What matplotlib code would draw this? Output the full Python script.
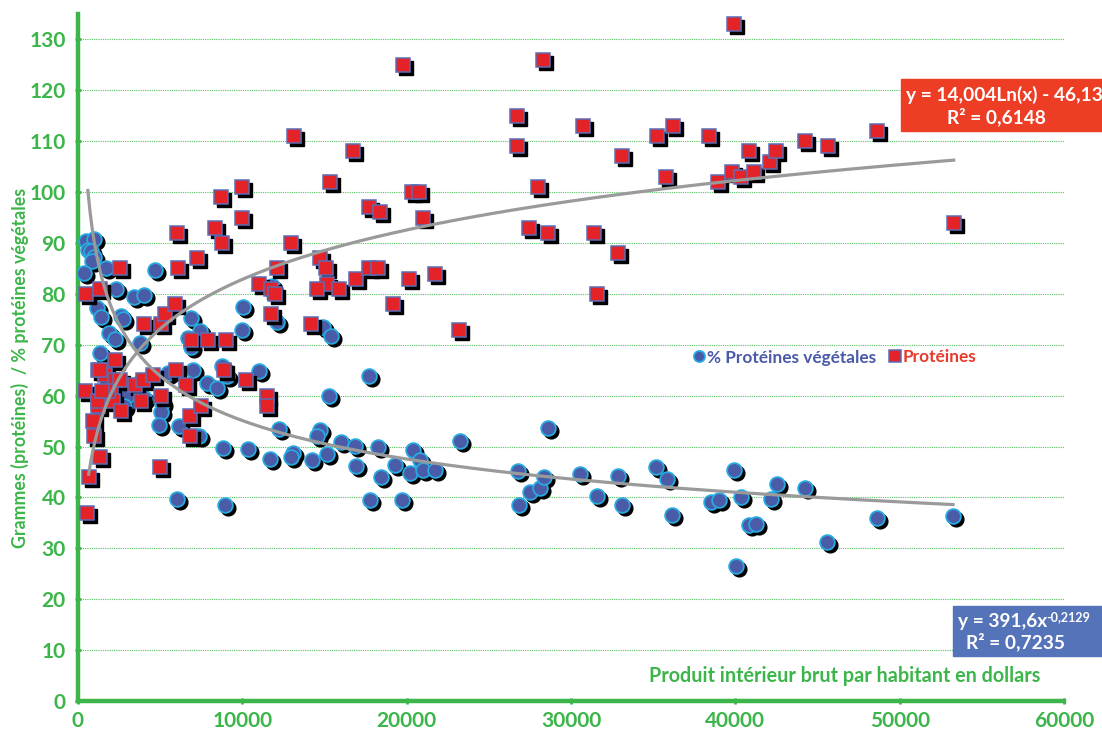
# PIB par habitant vs protéines : nuage de points avec courbes de tendance
from matplotlib import pyplot as plt
from matplotlib import transforms
from matplotlib.patches import Rectangle
import numpy as np

plt.rcParams['font.family'] = ['Lato', 'DejaVu Sans']
plt.rcParams['font.weight'] = 'bold'

# % protéines végétales (x = PIB/hab en dollars, y = %)
veg_x = [470, 976, 630, 770, 976, 830, 366, 1690, 4700, 2300, 3420, 4030, 1180, 1420,
         2600, 2750, 1890, 2250, 3800, 1330, 10050, 6870, 7400, 9990, 6670, 6900, 12110,
         14880, 15410, 11810, 5450, 6970, 7880, 8440, 9050, 8750, 11040, 5100, 5040, 4940,
         6140, 7380, 8800, 10330, 11700, 13070, 12970, 14230, 14700, 14520, 12260, 15150,
         16000, 16840, 16920, 6000, 8970, 15270, 17710, 18250, 18460, 19280, 20190, 20390,
         20800, 21000, 21720, 23240, 17750, 19740, 26800, 26860, 27510, 28120, 28380, 28630,
         30520, 31600, 32880, 33120, 35200, 35870, 36170, 38490, 38980, 39890, 40020, 40320,
         40810, 41240, 42150, 42520, 44230, 45570, 48620, 53250, 4030, 3820, 1500, 2200,
         3000, 2800, 1800]
veg_y = [90.4, 90.7, 88.7, 88.4, 87.3, 86.5, 84.2, 85, 84.6, 80.9, 79.4, 79.8, 77.3, 75.4,
         75.6, 75, 72.4, 71.2, 70.4, 68.3, 77.4, 75.3, 72.8, 73, 71.4, 69.5, 74.4,
         73.4, 71.7, 81.5, 64.5, 65.1, 62.4, 61.6, 63.8, 65.8, 64.8, 58.6, 56.8, 54.2,
         54.1, 52, 49.8, 49.5, 47.6, 48.8, 48, 47.4, 53.2, 52.1, 53.5, 48.5,
         50.8, 50.1, 46.1, 39.7, 38.6, 60, 63.8, 49.9, 44, 46.4, 44.8, 49.4,
         47.4, 45.4, 45.4, 51, 39.4, 39.5, 45.2, 38.5, 41, 41.8, 44.1, 53.6,
         44.6, 40.3, 44.2, 38.5, 46, 43.7, 36.6, 39.1, 39.5, 45.4, 26.5, 40.1,
         34.6, 34.8, 39.7, 42.7, 41.9, 31.3, 36, 36.4, 59.6, 62.8, 65, 62,
         60, 58, 63]

# Protéines (grammes)
prot_x = [550, 650, 1340, 1000, 920, 1220, 430, 1220, 1220, 1650, 2260, 2010, 2260, 2140,
          2620, 1830, 2560, 3480, 3850, 3970, 4580, 5070, 5000, 5980, 6590, 6840, 6840,
          7510, 8910, 10250, 11480, 11480, 6900, 7940, 9030, 4030, 5070, 5310, 5920, 6100,
          6040, 7260, 8360, 8790, 8730, 9950, 10010, 2560, 490, 1340, 11000, 11720, 11960,
          12090, 12940, 11720, 14160, 13120, 14710, 15080, 15140, 14530, 15870, 15320, 16720,
          16910, 17700, 18250, 17700, 18370, 19170, 19780, 20140, 20330, 20750, 21000, 21730,
          23200, 26740, 26740, 27470, 28020, 28320, 28630, 30700, 31370, 31560, 32840, 33080,
          35220, 35770, 36200, 38390, 38940, 39800, 39920, 40350, 40840, 41140, 42120, 42480,
          44250, 45660, 48650, 53290, 1460, 1320]
prot_y = [37, 44, 48, 52, 55, 58, 61, 59, 65, 64, 67, 61, 63, 59,
          57, 61, 63, 62, 59, 63, 64, 60, 46, 65, 62, 52, 56,
          58, 65, 63, 60, 58, 71, 71, 71, 74, 74, 76, 78, 85,
          92, 87, 93, 90, 99, 95, 101, 85, 80, 81, 82, 81, 80,
          85, 90, 76, 74, 111, 87, 85, 82, 81, 81, 102, 108,
          83, 85, 85, 97, 96, 78, 125, 83, 100, 100, 95, 84,
          73, 115, 109, 93, 101, 126, 92, 113, 92, 80, 88, 107,
          111, 103, 113, 111, 102, 104, 133, 103, 108, 104, 106, 108,
          110, 109, 112, 94, 61, 65]

# coefficients des courbes de tendance (affichés sur le graphique)
pow_a, pow_b = 391.6, -0.2129
log_a, log_b = 14.004, -46.13

green = '#3cb54a'
blue_fill = '#4a5ba7'
blue_edge = '#27aae1'
red_fill = '#e32328'
red_edge = '#5d6cb5'

W, H = 1102, 731
fig = plt.figure(figsize=(W/100, H/100), dpi=100)
ax = fig.add_axes([78/W, 30/H, 986/W, 687/H])

shadow = transforms.offset_copy(ax.transData, fig=fig, x=3, y=-3, units='dots')

ax.plot(veg_x, veg_y, 'o', ms=10.6, color='black', transform=shadow, zorder=2)
l1, = ax.plot(veg_x, veg_y, 'o', ms=10.6, mfc=blue_fill, mec=blue_edge, mew=1.3, zorder=3,
              label='% Protéines végétales')
ax.plot(prot_x, prot_y, 's', ms=10.6, color='black', transform=shadow, zorder=4)
l2, = ax.plot(prot_x, prot_y, 's', ms=10.6, mfc=red_fill, mec=red_edge, mew=1.1, zorder=5,
              label='Protéines')

# courbes de tendance
xv = np.linspace(600, max(veg_x), 400)
ax.plot(xv, pow_a*xv**pow_b, color='#9a9a9a', lw=2.3, zorder=6)
xp = np.linspace(650, max(prot_x), 400)
ax.plot(xp, log_a*np.log(xp) + log_b, color='#9a9a9a', lw=2.3, zorder=6)

ax.set_xlim(0, 60000)
ax.set_ylim(0, 135)
ax.set_xticks(range(0, 60001, 10000))
ax.set_yticks(range(0, 131, 10))
ax.grid(axis='y', color='#52c45e', linestyle=(0, (1, 1)), lw=0.8)
ax.set_axisbelow(True)
for s in ['top', 'right']:
    ax.spines[s].set_visible(False)
for s in ['left', 'bottom']:
    ax.spines[s].set_color(green)
    ax.spines[s].set_linewidth(3.2)
ax.tick_params(colors=green, labelsize=15, length=4, width=2, direction='inout')
ax.tick_params(axis='y', pad=7)
ax.tick_params(axis='x', pad=5)
for lab in ax.get_xticklabels() + ax.get_yticklabels():
    lab.set_fontweight('bold')

ax.text(0.778, 0.036, 'Produit intérieur brut par habitant en dollars', transform=ax.transAxes,
        ha='center', va='center', color=green, fontsize=14.2, fontweight='bold')
fig.text(20/W, 1 - 368/H, 'Grammes (protéines)  / % protéines végétales', rotation=90,
         ha='center', va='center', color=green, fontsize=12.8, fontweight='bold')

leg = ax.legend(handles=[l1, l2], loc='center left', bbox_to_anchor=(0.609, 0.50), ncol=2,
                frameon=False, markerscale=0.75, handlelength=0.6, handletextpad=0.15,
                columnspacing=0.8, labelcolor=['#4a5aa8', '#e8392a'],
                prop={'size': 12.4, 'weight': 'bold'})

# encadrés des équations
fig.add_artist(Rectangle((901/W, 1 - 131/H), 201/W, 52/H, transform=fig.transFigure,
                         color='#ee3d25', zorder=10))
fig.text(906/W, 1 - 95/H, 'y = 14,004Ln(x) - 46,13', ha='left', va='center', color='white',
         fontsize=13.8, fontweight='bold', zorder=11)
fig.text(996/W, 1 - 117/H, 'R² = 0,6148', ha='center', va='center', color='white',
         fontsize=13.8, fontweight='bold', zorder=11)

fig.add_artist(Rectangle((953/W, 1 - 656/H), 149/W, 50/H, transform=fig.transFigure,
                         color='#5573b9', zorder=10))
t1 = fig.text(958/W, 1 - 621/H, 'y = 391,6x', ha='left', va='center', color='white',
              fontsize=13.8, fontweight='bold', zorder=11)
fig.text(1015/W, 1 - 642/H, 'R² = 0,7235', ha='center', va='center', color='white',
         fontsize=13.8, fontweight='bold', zorder=11)

# exposant collé après « 391,6x »
fig.canvas.draw()
bb = t1.get_window_extent()
fig.text((bb.x1 - 1)/W, (bb.y1 - 11)/H, '-0,2129', ha='left', va='bottom', color='white',
         fontsize=9, fontweight='bold', zorder=11)

fig.savefig('out.png', dpi=100)
